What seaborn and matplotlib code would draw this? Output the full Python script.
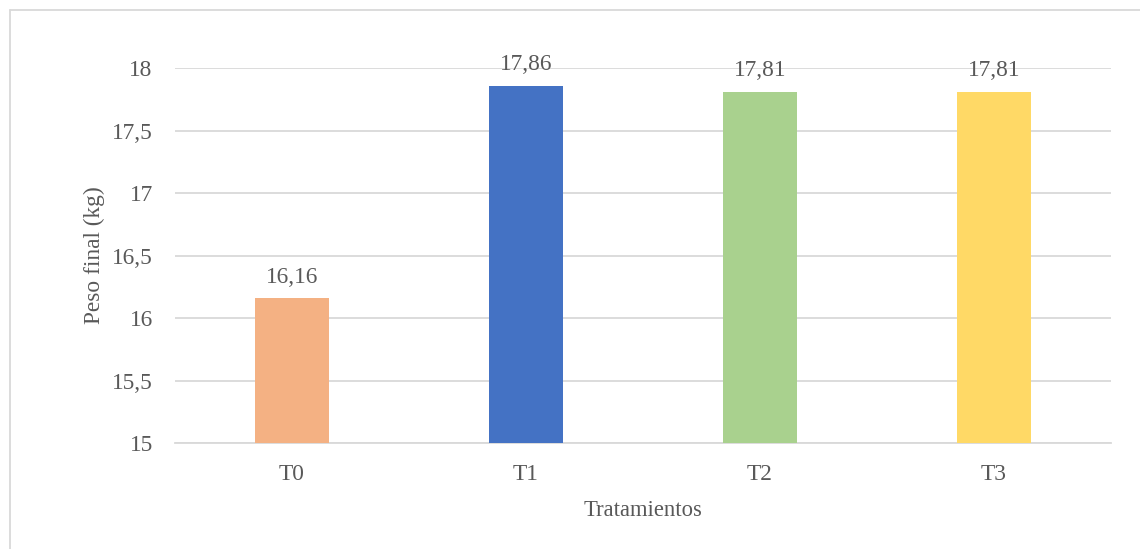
import matplotlib
matplotlib.use("Agg")
import matplotlib.pyplot as plt
import seaborn as sns
import pandas as pd
from matplotlib.lines import Line2D

# Data
tratamientos = ["T0", "T1", "T2", "T3"]
peso_final = [16.16, 17.86, 17.81, 17.81]
colores = ["#F4B183", "#4472C4", "#A9D18E", "#FFD966"]
y_ticks = [15, 15.5, 16, 16.5, 17, 17.5, 18]

df = pd.DataFrame({"Tratamientos": tratamientos, "Peso": peso_final})

sns.set_theme(style="white")
plt.rcParams["font.family"] = ["Liberation Serif", "DejaVu Serif"]

text_color = "#595959"
grid_color = "#D9D9D9"

fig = plt.figure(figsize=(11.4, 5.49), dpi=100)
ax = fig.add_axes([0.1535, 0.193, 0.821, 0.683])

sns.barplot(data=df, x="Tratamientos", y="Peso", hue="Tratamientos",
            palette=colores, width=0.316, legend=False, ax=ax,
            saturation=1, linewidth=0, zorder=3)

ax.set_ylim(15, 18)
ax.set_xlim(-0.5, 3.5)
ax.set_yticks(y_ticks)
ax.set_yticklabels([f"{v:g}".replace(".", ",") for v in y_ticks])
ax.yaxis.grid(True, color=grid_color, linewidth=1.3, zorder=0)
ax.set_axisbelow(True)
for s in ["top", "right", "left"]:
    ax.spines[s].set_visible(False)
ax.spines["bottom"].set_color(grid_color)
ax.spines["bottom"].set_linewidth(1.3)

ax.tick_params(axis="y", length=0, pad=16, labelsize=16.8, labelcolor=text_color)
ax.tick_params(axis="x", length=0, pad=15, labelsize=16.8, labelcolor=text_color)

ax.set_xlabel("Tratamientos", fontsize=16.3, color=text_color, labelpad=11)
ax.set_ylabel("Peso final (kg)", fontsize=16.8, color=text_color, labelpad=5)

for i, v in enumerate(peso_final):
    ax.annotate(f"{v:.2f}".replace(".", ","), (i, v), xytext=(0, 7.5),
                textcoords="offset points", ha="center", va="bottom",
                fontsize=16.8, color=text_color, annotation_clip=False)

# Chart area border (top and left edges)
fig.add_artist(Line2D([10 / 1140, 1.0], [1 - 10 / 549, 1 - 10 / 549],
                      transform=fig.transFigure, color=grid_color, linewidth=1.3))
fig.add_artist(Line2D([10 / 1140, 10 / 1140], [1 - 10 / 549, 0.0],
                      transform=fig.transFigure, color=grid_color, linewidth=1.3))

fig.savefig("out.png", dpi=100)
